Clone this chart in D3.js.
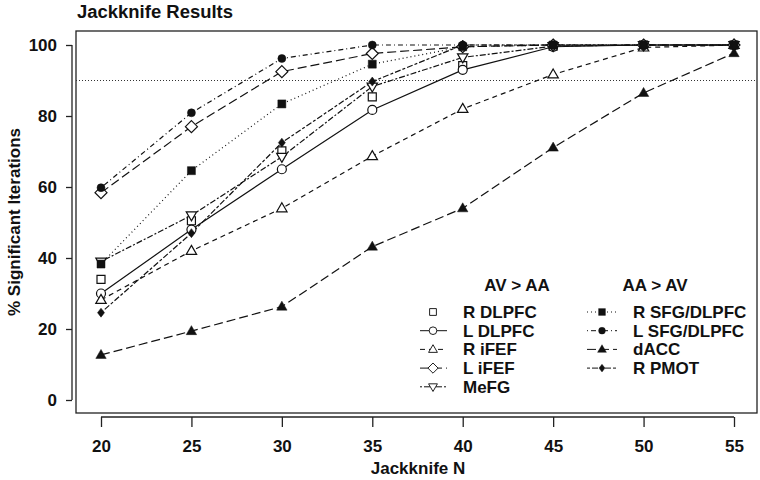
<!DOCTYPE html>
<html><head><meta charset="utf-8">
<script src="https://cdn.jsdelivr.net/npm/d3@7"></script>
<style>
html,body{margin:0;padding:0;background:#fff;}
text{font-family:"Liberation Sans",Arial,Helvetica,sans-serif;font-weight:bold;fill:#111;}
</style></head>
<body><svg id="c" width="760" height="480"></svg>
<script>
const jackN = [20, 25, 30, 35, 40, 45, 50, 55];
const xTicks = [20, 25, 30, 35, 40, 45, 50, 55];
const yTicks = [0, 20, 40, 60, 80, 100];
const refLine = 90;

const rDLPFC = [34, 50.5, 70.2, 85.4, 94.2, 99.7, 100, 100];
const lDLPFC = [30, 48, 65, 81.7, 93, 99.5, 100, 100];
const rIFEF  = [28.2, 42, 54, 68.7, 82, 91.7, 99.3, 100];
const lIFEF  = [58.4, 77, 92.5, 97.6, 99.5, 100, 100, 100];
const meFG   = [39, 52, 68.5, 88.3, 96.5, 99.7, 100, 100];
const rSFG   = [38.3, 64.6, 83.4, 94.6, 99.5, 100, 100, 100];
const lSFG   = [59.8, 80.9, 96.2, 100, 100, 100, 100, 100];
const dACC   = [12.7, 19.4, 26.3, 43.2, 54, 71.1, 86.5, 97.7];
const rPMOT  = [24.6, 47, 72.5, 89.7, 100, 100, 100, 100];

const groupTitles = ["AV > AA", "AA > AV"];

const series = [
  {name:"R DLPFC", v:rDLPFC, sym:"sqO", dash:null, g:0},
  {name:"L DLPFC", v:lDLPFC, sym:"cirO", dash:"", g:0},
  {name:"R iFEF", v:rIFEF, sym:"triO", dash:"5,4", g:0},
  {name:"L iFEF", v:lIFEF, sym:"diaO", dash:"9,4", g:0},
  {name:"MeFG", v:meFG, sym:"dtriO", dash:"2,2,6,2", g:0},
  {name:"R SFG/DLPFC", v:rSFG, sym:"sqF", dash:"1,3", g:1},
  {name:"L SFG/DLPFC", v:lSFG, sym:"cirF", dash:"1,3,5,3", g:1},
  {name:"dACC", v:dACC, sym:"triF", dash:"9,4", g:1},
  {name:"R PMOT", v:rPMOT, sym:"diaF", dash:"3,2,6,2", g:1}
];

const svg = d3.select("#c");
const box = {l:76, r:757, t:31, b:413};
const x = d3.scaleLinear().domain([20,55]).range([101,734]);
const y = d3.scaleLinear().domain([0,100]).range([400,45]);

function symPath(t){
  switch(t){
    case "sqO": case "sqF": return "M-4,-4H4V4H-4Z";
    case "cirO": return "M-4.5,0A4.5,4.5 0 1,0 4.5,0A4.5,4.5 0 1,0 -4.5,0Z";
    case "cirF": return "M-4,0A4,4 0 1,0 4,0A4,4 0 1,0 -4,0Z";
    case "triO": case "triF": return "M0,-5.5L5.2,3.5H-5.2Z";
    case "dtriO": return "M0,5.5L5.2,-3.5H-5.2Z";
    case "diaO": return "M0,-6L6,0L0,6L-6,0Z";
    case "diaF": return "M0,-4.5L3.5,0L0,4.5L-3.5,0Z";
  }
}
function filled(t){ return /F$/.test(t); }

// title
svg.append("text").attr("x",77).attr("y",18).attr("font-size",18).attr("textLength",156).attr("lengthAdjust","spacingAndGlyphs").text("Jackknife Results");

// box
svg.append("rect").attr("x",box.l).attr("y",box.t).attr("width",box.r-box.l).attr("height",box.b-box.t)
  .attr("fill","none").attr("stroke","#222").attr("stroke-width",1.3);

// axes
const xAxis = svg.append("g").attr("transform","translate(0,417)")
  .call(d3.axisBottom(x).tickValues(xTicks).tickSize(10).tickPadding(13));
const yAxis = svg.append("g").attr("transform","translate(72,0)")
  .call(d3.axisLeft(y).tickValues(yTicks).tickSize(6).tickPadding(10));
[xAxis,yAxis].forEach(a=>{
  a.selectAll("path").attr("stroke","#222").attr("stroke-width",1.3);
  a.selectAll("line").attr("stroke","#222").attr("stroke-width",1.3);
  a.selectAll("text").attr("font-size",17).attr("font-family","Liberation Sans, Arial, sans-serif").attr("font-weight","bold").attr("fill","#111");
});
xAxis.select("path").attr("d",`M${x(20)},0H${x(55)}`);
yAxis.select("path").attr("d",`M0,${y(0)}V${y(100)}`);
yAxis.selectAll("text").attr("x",-15).attr("dy","0.35em");

svg.append("text").attr("x",418).attr("y",474).attr("text-anchor","middle").attr("font-size",17).text("Jackknife N");
svg.append("text").attr("transform","translate(20,222) rotate(-90)").attr("text-anchor","middle").attr("font-size",17).text("% Significant Iterations");

// reference line
svg.append("line").attr("x1",box.l).attr("x2",box.r).attr("y1",y(refLine)).attr("y2",y(refLine))
  .attr("stroke","#333").attr("stroke-width",1).attr("stroke-dasharray","1,2");

const line = d3.line().x((d,i)=>x(jackN[i])).y(d=>y(d));

// lines
series.forEach(s=>{
  if(s.dash===null) return;
  svg.append("path").attr("d",line(s.v)).attr("fill","none").attr("stroke","#111")
    .attr("stroke-width",1.2).attr("stroke-dasharray",s.dash||null);
});
// points
series.forEach(s=>{
  svg.append("g").selectAll("path").data(s.v).join("path")
    .attr("transform",(d,i)=>`translate(${x(jackN[i])},${y(d)})`)
    .attr("d",symPath(s.sym))
    .attr("fill",filled(s.sym)?"#111":"#fff")
    .attr("stroke","#111").attr("stroke-width",filled(s.sym)?0.5:1.2);
});

// legend
const leg = svg.append("g");
const colX = [{line0:420,line1:447,sym:433,txt:463,head:517},{line0:587,line1:617,sym:602,txt:633,head:655}];
groupTitles.forEach((t,g)=>{
  leg.append("text").attr("x",colX[g].head).attr("y",291).attr("text-anchor","middle").attr("font-size",17).text(t);
});
const rows=[0,0];
series.forEach(s=>{
  const c = colX[s.g]; const r = rows[s.g]++;
  const yy = 312 + r*18.7;
  if(s.dash!==null){
    leg.append("line").attr("x1",c.line0).attr("x2",c.line1).attr("y1",yy).attr("y2",yy)
      .attr("stroke","#111").attr("stroke-width",1).attr("stroke-dasharray",s.dash||null);
  }
  leg.append("path").attr("transform",`translate(${c.sym},${yy}) scale(0.85)`).attr("d",symPath(s.sym))
    .attr("fill",filled(s.sym)?"#111":"#fff").attr("stroke","#111").attr("stroke-width",filled(s.sym)?0.5:1.1);
  leg.append("text").attr("x",c.txt).attr("y",yy+6).attr("font-size",17).text(s.name);
});
</script></body></html>
